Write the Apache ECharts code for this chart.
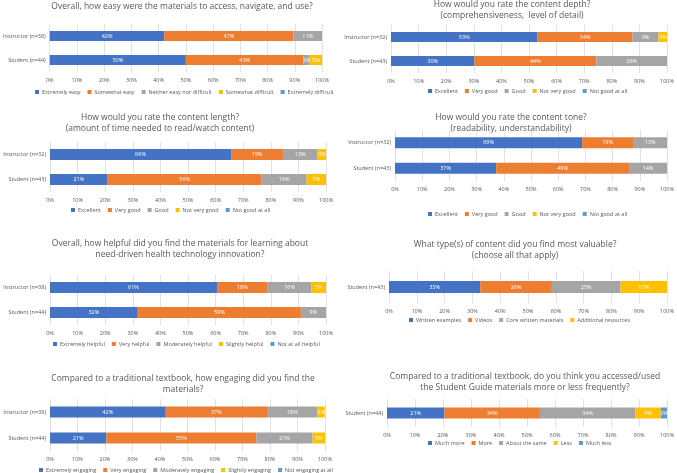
<!DOCTYPE html>
<html><head><meta charset="utf-8">
<script src="https://cdn.jsdelivr.net/npm/echarts@6/dist/echarts.min.js"></script>
<style>html,body{margin:0;padding:0;background:#fff}#c{width:677px;height:473px}</style>
</head><body><div id="c"></div>
<script>
// ---------- DATA ----------
const colors = ['#4472C4', '#ED7D31', '#A5A5A5', '#FFC000', '#5B9BD5'];
const xTicks = [0, 10, 20, 30, 40, 50, 60, 70, 80, 90, 100];

const p1Title = 'Overall, how easy were the materials to access, navigate, and use?';
const p1Cats = ['Instructor (n=38)', 'Student (n=44)'];
const p1Names = ['Extremely easy', 'Somewhat easy', 'Neither easy nor difficult', 'Somewhat difficult', 'Extremely difficult'];
const p1Vals = [[42.1, 50.0], [47.4, 43.2], [10.5, 2.3], [0, 4.5], [0, 0]];

const p2Title = 'How would you rate the content depth?\n(comprehensiveness,  level of detail)';
const p2Cats = ['Instructor (n=32)', 'Student (n=43)'];
const p2Names = ['Excellent', 'Very good', 'Good', 'Not very good', 'Not good at all'];
const p2Vals = [[53.1, 30.2], [34.4, 44.2], [9.4, 25.6], [3.1, 0], [0, 0]];

const p3Title = 'How would you rate the content length?\n(amount of time needed to read/watch content)';
const p3Cats = ['Instructor (n=32)', 'Student (n=43)'];
const p3Names = ['Excellent', 'Very good', 'Good', 'Not very good', 'Not good at all'];
const p3Vals = [[65.6, 20.9], [18.8, 55.8], [12.5, 16.3], [3.1, 7.0], [0, 0]];

const p4Title = 'How would you rate the content tone?\n(readability, understandability)';
const p4Cats = ['Instructor (n=32)', 'Student (n=43)'];
const p4Names = ['Excellent', 'Very good', 'Good', 'Not very good', 'Not good at all'];
const p4Vals = [[68.8, 37.2], [18.7, 48.8], [12.5, 14.0], [0, 0], [0, 0]];

const p5Title = 'Overall, how helpful did you find the materials for learning about\nneed-driven health technology innovation?';
const p5Cats = ['Instructor (n=38)', 'Student (n=44)'];
const p5Names = ['Extremely helpful', 'Very helpful', 'Moderately helpful', 'Slightly helpful', 'Not at all helpful'];
const p5Vals = [[60.5, 31.8], [18.4, 59.1], [15.8, 9.1], [5.3, 0], [0, 0]];

const p6Title = 'What type(s) of content did you find most valuable?\n(choose all that apply)';
const p6Cats = ['Student (n=43)'];
const p6Names = ['Written examples', 'Videos', 'Core written materials', 'Additional resources'];
const p6Vals = [[32.8], [25.8], [24.7], [16.7]];

const p7Title = 'Compared to a traditional textbook, how engaging did you find the\nmaterials?';
const p7Cats = ['Instructor (n=38)', 'Student (n=44)'];
const p7Names = ['Extremely engaging', 'Very engaging', 'Moderately engaging', 'Slightly engaging', 'Not engaging at all'];
const p7Vals = [[42.1, 20.5], [36.8, 54.5], [18.4, 20.5], [2.6, 4.5], [0, 0]];

const p8Title = 'Compared to a traditional textbook, do you think you accessed/used\nthe Student Guide materials more or less frequently?';
const p8Cats = ['Student (n=44)'];
const p8Names = ['Much more', 'More', 'About the same', 'Less', 'Much less'];
const p8Vals = [[20.5], [34.1], [34.1], [9.1], [2.3]];

// ---------- LAYOUT ----------
const panels = [
  {t: p1Title, c: p1Cats, n: p1Names, v: p1Vals, tx: 182, ty: 1,     g: {left: 47,  right: 355, top: 24,  height: 48}, ly: 89,  lx: 184, bw: 10},
  {t: p2Title, c: p2Cats, n: p2Names, v: p2Vals, tx: 512, ty: -1.5,  g: {left: 391, right: 10,  top: 25,  height: 48}, ly: 88,  lx: 528, bw: 10},
  {t: p3Title, c: p3Cats, n: p3Names, v: p3Vals, tx: 160, ty: 111.5, g: {left: 50,  right: 351, top: 142, height: 50}, ly: 207, lx: 171, bw: 11},
  {t: p4Title, c: p4Cats, n: p4Names, v: p4Vals, tx: 511, ty: 111.5, g: {left: 395, right: 6,   top: 130, height: 51}, ly: 211, lx: 528, bw: 11},
  {t: p5Title, c: p5Cats, n: p5Names, v: p5Vals, tx: 180, ty: 237.5, g: {left: 50,  right: 351, top: 275, height: 50}, ly: 341, lx: 186, bw: 11},
  {t: p6Title, c: p6Cats, n: p6Names, v: p6Vals, tx: 515, ty: 238.5, g: {left: 389, right: 10,  top: 271, height: 32}, ly: 317, lx: 520, bw: 12},
  {t: p7Title, c: p7Cats, n: p7Names, v: p7Vals, tx: 183, ty: 372.5, g: {left: 50,  right: 352, top: 399, height: 52}, ly: 467, lx: 186, bw: 11},
  {t: p8Title, c: p8Cats, n: p8Names, v: p8Vals, tx: 525, ty: 370.5, g: {left: 387, right: 9,   top: 399, height: 28}, ly: 440, lx: 520, bw: 11}
];

const FONT = '"Open Sans", "Liberation Sans", sans-serif';
const option = {animation: false, textStyle: {fontFamily: FONT}, title: [], grid: [], xAxis: [], yAxis: [], legend: [], series: []};

panels.forEach((p, i) => {
  option.title.push({text: p.t, left: p.tx, top: p.ty, textAlign: 'center', padding: 0,
    textStyle: {fontSize: 8.5, fontWeight: 'normal', color: '#595959', lineHeight: 11.5, fontFamily: FONT}});
  option.grid.push(Object.assign({containLabel: false}, p.g));
  option.xAxis.push({type: 'value', gridIndex: i, min: 0, max: 100, interval: 10,
    axisLine: {show: false}, axisTick: {show: false},
    axisLabel: {formatter: v => xTicks.includes(v) ? v + '%' : '', fontSize: 5.5, color: '#595959', margin: 5},
    splitLine: {show: true, lineStyle: {color: '#D9D9D9', width: 0.8}}});
  option.yAxis.push({type: 'category', gridIndex: i, data: p.c, inverse: true,
    axisLine: {show: false}, axisTick: {show: false},
    axisLabel: {fontSize: 5.5, color: '#595959', margin: 4}});
  option.legend.push({data: p.n, left: 0, width: 670, top: p.ly, orient: 'horizontal', icon: 'rect',
    itemWidth: 4, itemHeight: 4, itemGap: 7, padding: 0, selectedMode: false,
    textStyle: {fontSize: 5.5, color: '#595959', padding: [0, 0, 0, -2]}});
  p.n.forEach((name, k) => {
    option.series.push({type: 'bar', name: name, xAxisIndex: i, yAxisIndex: i, stack: 'p' + i,
      data: p.v[k], barWidth: p.bw, itemStyle: {color: colors[k]},
      label: {show: true, position: 'inside', fontSize: 5.5, color: '#fff',
        formatter: d => d.value > 0 ? Math.round(d.value) + '%' : ''}});
  });
});

const chart = echarts.init(document.getElementById('c'), null, {renderer: 'canvas'});
chart.setOption(option);
// centre each legend on its target x
const model = chart.getModel();
const newLegends = option.legend.map((l, i) => {
  const view = chart.getViewOfComponentModel(model.getComponent('legend', i));
  const w = view.group.getBoundingRect().width;
  return {left: Math.round(panels[i].lx - w / 2), width: Math.ceil(w) + 10};
});
chart.setOption({legend: newLegends});
</script>
</body></html>
